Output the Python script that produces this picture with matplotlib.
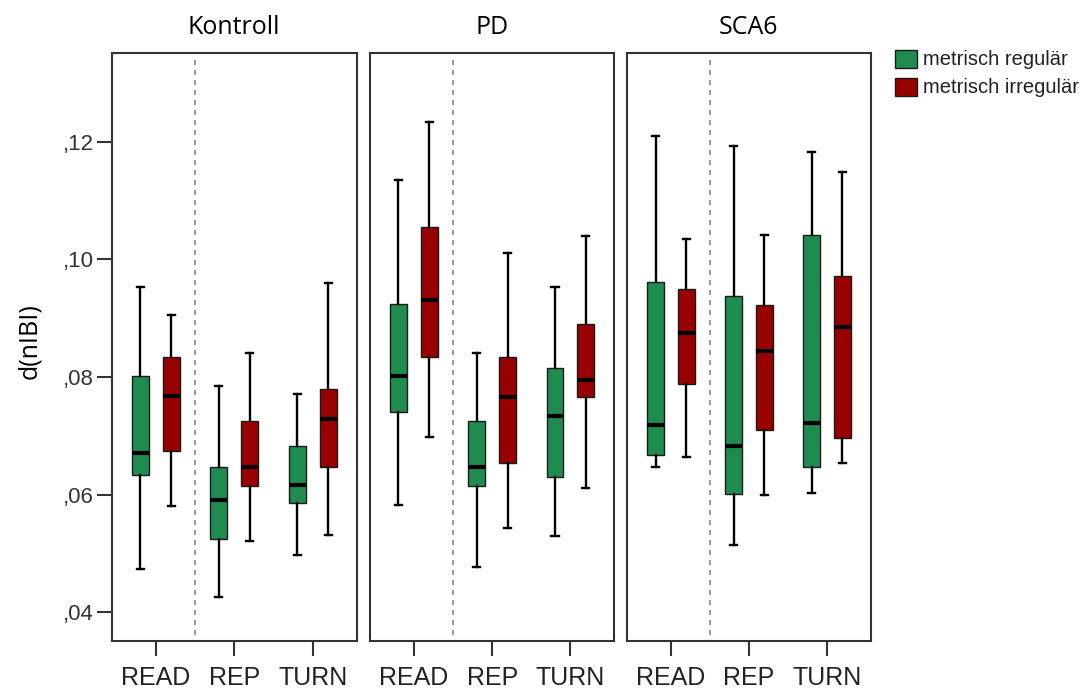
import matplotlib.pyplot as plt
from matplotlib.patches import Patch
from matplotlib.ticker import FuncFormatter

# Groups, tasks and legend labels
groups = ['Kontroll', 'PD', 'SCA6']
tasks = ['READ', 'REP', 'TURN']
series = ['metrisch regulär', 'metrisch irregulär']

# Box stats, order: Kontroll READ/REP/TURN, PD ..., SCA6 ...
reg_lo = [0.0473, 0.0426, 0.0497, 0.0583, 0.0477, 0.0529, 0.0646, 0.0514, 0.0603]
reg_q1 = [0.0633, 0.0525, 0.0586, 0.0741, 0.0615, 0.0630, 0.0668, 0.0601, 0.0647]
reg_med = [0.0670, 0.0590, 0.0616, 0.0801, 0.0646, 0.0734, 0.0719, 0.0683, 0.0722]
reg_q3 = [0.0801, 0.0647, 0.0683, 0.0924, 0.0725, 0.0815, 0.0961, 0.0937, 0.1042]
reg_hi = [0.0952, 0.0784, 0.0771, 0.1134, 0.0840, 0.0952, 0.1210, 0.1193, 0.1183]

irr_lo = [0.0581, 0.0521, 0.0532, 0.0697, 0.0543, 0.0611, 0.0664, 0.0600, 0.0654]
irr_q1 = [0.0674, 0.0615, 0.0646, 0.0833, 0.0653, 0.0765, 0.0788, 0.0709, 0.0696]
irr_med = [0.0768, 0.0647, 0.0728, 0.0930, 0.0766, 0.0795, 0.0874, 0.0844, 0.0885]
irr_q3 = [0.0833, 0.0725, 0.0779, 0.1055, 0.0833, 0.0890, 0.0950, 0.0923, 0.0972]
irr_hi = [0.0906, 0.0841, 0.0960, 0.1233, 0.1010, 0.1039, 0.1035, 0.1042, 0.1149]

yticks = [0.04, 0.06, 0.08, 0.10, 0.12]

green = '#1e8c4e'
red = '#990000'
txt = '#222222'
edge = '#333333'

plt.rcParams['font.family'] = ['Liberation Sans', 'DejaVu Sans']

fig = plt.figure(figsize=(10.84, 6.88), dpi=100)
lefts = [0.1030, 0.3413, 0.5787]
widths = [0.2260, 0.2254, 0.2245]


def stats(lo, q1, med, q3, hi, idx):
    return [dict(whislo=lo[k], q1=q1[k], med=med[k], q3=q3[k], whishi=hi[k], fliers=[])
            for k in idx]


for g, name in enumerate(groups):
    ax = fig.add_axes([lefts[g], 0.0683, widths[g], 0.8542])
    idx = [g * 3 + t for t in range(3)]
    for st, off, col in [(stats(reg_lo, reg_q1, reg_med, reg_q3, reg_hi, idx), -0.197, green),
                         (stats(irr_lo, irr_q1, irr_med, irr_q3, irr_hi, idx), 0.197, red)]:
        ax.bxp(st, positions=[t + off for t in range(3)], widths=0.216,
               capwidths=0.09, patch_artist=True, showfliers=False,
               boxprops=dict(facecolor=col, edgecolor='#1a1a1a', linewidth=1.0),
               medianprops=dict(color='black', linewidth=3.0),
               whiskerprops=dict(color='black', linewidth=1.7),
               capprops=dict(color='black', linewidth=1.7))

    ax.axvline(0.5, ymin=0.01, ymax=0.99, color='#888888', linewidth=1.2,
               linestyle=(0, (3, 3)))
    ax.set_xlim(-0.56, 2.56)
    ax.set_ylim(0.0351, 0.135)
    ax.set_xticks(range(3))
    ax.set_xticklabels(tasks, fontsize=18, color=txt)
    ax.tick_params(axis='x', length=11, width=1.5, pad=7, color=edge)
    for s in ax.spines.values():
        s.set_color(edge)
        s.set_linewidth(1.5)
    ax.set_title(name, fontsize=18, family=['Open Sans', 'DejaVu Sans'],
                 color='black', pad=14)
    if g == 0:
        ax.set_yticks(yticks)
        ax.yaxis.set_major_formatter(FuncFormatter(lambda v, _: ('%.2f' % v)[1:].replace('.', ',')))
        ax.tick_params(axis='y', length=11, width=1.5, pad=2, color=edge,
                       labelsize=16, labelcolor='#333333')
        ax.set_ylabel('d(nIBI)', fontsize=18, family=['Open Sans', 'DejaVu Sans'])
        ax.yaxis.set_label_coords(-0.285, 0.51)
    else:
        ax.set_yticks([])

handles = [Patch(facecolor=green, edgecolor='#1a1a1a', linewidth=1.0),
           Patch(facecolor=red, edgecolor='#1a1a1a', linewidth=1.0)]
fig.legend(handles, series, loc='upper left', bbox_to_anchor=(0.8257, 0.928),
           frameon=False, fontsize=14.5, handlelength=1.1, handleheight=1.0,
           handletextpad=0.3, labelspacing=0.4, borderpad=0, borderaxespad=0,
           labelcolor=txt)

fig.savefig('out.png', dpi=100)
